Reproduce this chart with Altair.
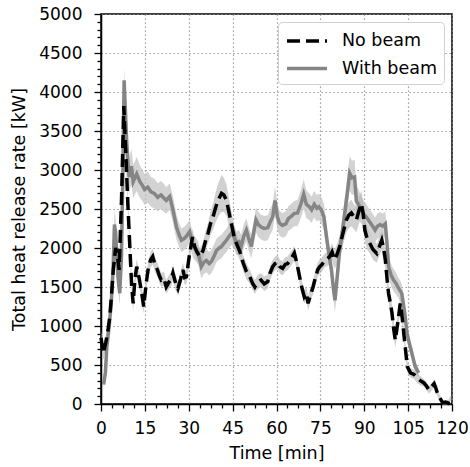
import altair as alt
import pandas as pd

# ---- data ----
nb_t = [0, 0.8, 1.6, 2.4, 3.0, 3.6, 4.2, 5.0, 5.6, 6.2, 7.0, 7.8, 8.5, 9.2, 10.0, 10.5, 11.0, 11.6, 12.2, 13.0,
        13.8, 14.6, 15.5, 16.2, 17.0, 17.7, 18.5, 19.3, 20.0, 20.6, 21.5, 22.3, 23.2, 24.0, 24.6, 25.5, 26.3, 27.2, 28.0, 28.6,
        29.2, 30.3, 31.3, 32.0, 32.8, 33.8, 34.9, 35.8, 36.6, 37.5, 38.3, 39.2, 40.0, 41.2, 42.0, 42.9, 43.8, 44.6, 45.5, 46.3,
        47.5, 48.6, 49.7, 50.9, 51.8, 52.6, 53.5, 54.7, 55.8, 57.0, 57.8, 58.7, 59.5, 60.4, 61.2, 62.1, 63.0, 63.8, 64.5, 65.3,
        66.1, 67.0, 67.8, 68.6, 69.5, 70.2, 70.8, 71.6, 72.5, 73.3, 74.1, 74.8, 75.6, 76.5, 77.3, 78.2, 79.0, 79.8, 80.7, 81.6,
        82.8, 83.9, 84.7, 85.6, 86.5, 87.3, 88.2, 89.0, 89.6, 90.2, 91.0, 91.9, 93.0, 94.3, 95.2, 96.0, 96.6, 97.2, 97.8, 98.3,
        99.0, 99.5, 100.0, 100.6, 101.5, 102.3, 103.0, 103.5, 104.1, 104.7, 105.8, 107.0, 108.1, 109.2, 110.4, 111.3, 112.1, 113.0, 113.9, 114.5,
        115.0, 115.8, 116.8, 117.8, 118.6, 119.3, 119.8]
nb_v = [850, 650, 780, 950, 1120, 1400, 1720, 2000, 1900, 1720, 2600, 3820, 3200, 2550, 1900, 1500, 1290, 1600, 1760, 1620,
        1450, 1250, 1560, 1750, 1850, 1890, 1780, 1720, 1640, 1590, 1610, 1500, 1560, 1600, 1680, 1550, 1480, 1600, 1720, 1620,
        1630, 1930, 2140, 2020, 1950, 1890, 1970, 2100, 2190, 2320, 2400, 2520, 2610, 2700, 2680, 2610, 2450, 2310, 2150, 2060,
        1950, 1810, 1700, 1630, 1550, 1500, 1560, 1590, 1540, 1570, 1680, 1760, 1800, 1820, 1760, 1740, 1790, 1800, 1840, 1880,
        1935, 1800, 1650, 1500, 1375, 1420, 1290, 1400, 1500, 1620, 1720, 1760, 1790, 1840, 1860, 1890, 1950, 1850, 1920, 2020,
        2200, 2360, 2420, 2450, 2400, 2360, 2480, 2570, 2450, 2230, 2120, 2060, 1980, 1930, 2020, 2100, 2000, 1850, 1600, 1420,
        1280, 1160, 980, 820, 1050, 1290, 1100, 910, 700, 480, 400, 380, 330, 300, 270, 230, 180, 220, 260, 200,
        140, 80, 15, 25, 10, 60, 80]
nb_w = [90, 90, 90, 90, 100, 100, 110, 120, 110, 110, 130, 120, 130, 120, 110, 100, 100, 100, 100, 90,
        90, 90, 90, 100, 100, 100, 90, 90, 90, 90, 90, 90, 90, 90, 90, 90, 90, 90, 90, 90,
        90, 100, 110, 100, 100, 100, 110, 120, 130, 150, 170, 190, 210, 240, 220, 200, 180, 160, 140, 120,
        110, 100, 100, 90, 90, 90, 90, 90, 90, 90, 90, 90, 90, 90, 90, 90, 90, 90, 90, 90,
        90, 90, 90, 90, 90, 90, 90, 90, 90, 90, 90, 90, 90, 90, 90, 100, 110, 120, 130, 140,
        150, 160, 170, 170, 160, 160, 170, 170, 160, 150, 140, 130, 130, 120, 120, 120, 120, 120, 120, 120,
        110, 110, 110, 100, 100, 100, 100, 90, 80, 70, 60, 60, 60, 60, 50, 50, 50, 50, 50, 50,
        40, 40, 30, 30, 30, 30, 30]

wb_t = [0.9, 1.5, 2.0, 2.8, 3.5, 4.1, 4.6, 5.0, 5.4, 5.8, 6.4, 7.0, 7.5, 7.9, 8.3, 8.7, 9.2, 9.6, 10.4, 11.0,
        11.6, 12.2, 13.3, 14.2, 14.9, 16.0, 17.1, 18.2, 19.4, 20.5, 21.5, 22.3, 23.5, 24.6, 25.8, 26.6, 27.5, 28.4, 29.2, 30.3,
        31.5, 32.4, 33.2, 34.3, 35.2, 36.0, 37.0, 37.8, 38.7, 39.5, 40.4, 41.2, 42.0, 42.9, 43.8, 44.6, 45.6, 46.3, 47.2, 47.9,
        48.8, 49.7, 50.5, 51.4, 52.2, 53.0, 53.8, 54.7, 55.8, 57.0, 57.8, 58.7, 59.5, 60.3, 61.0, 62.0, 63.2, 64.1, 64.9, 66.0,
        67.2, 68.3, 69.3, 70.2, 71.2, 72.0, 72.9, 73.8, 74.5, 75.3, 76.2, 77.1, 78.0, 78.8, 79.4, 80.0, 80.8, 81.6, 82.5, 83.3,
        84.2, 85.0, 85.8, 86.7, 87.3, 87.9, 88.8, 89.7, 90.6, 91.4, 92.5, 93.7, 94.5, 95.4, 96.3, 97.2, 97.8, 98.3, 99.2, 100.0,
        100.8, 101.5, 102.3, 102.8, 103.4, 104.0, 104.6, 105.4, 106.3, 107.4, 108.6]
wb_v = [250, 400, 735, 1000, 1290, 1700, 2300, 2200, 1900, 1630, 1420, 1890, 3000, 4150, 3800, 3430, 3100, 2910, 3050, 2850,
        2900, 2950, 2850, 2800, 2750, 2780, 2720, 2700, 2650, 2680, 2640, 2610, 2660, 2490, 2270, 2180, 2100, 2120, 2150, 2210,
        2020, 1980, 1940, 1760, 1820, 1840, 1800, 1830, 1900, 1970, 2000, 2020, 2060, 2100, 2150, 2190, 2140, 2060, 2080, 2020,
        2150, 2230, 2120, 2020, 2200, 2360, 2300, 2270, 2250, 2260, 2330, 2400, 2610, 2400, 2320, 2290, 2310, 2380, 2400, 2440,
        2450, 2560, 2690, 2560, 2530, 2490, 2560, 2510, 2530, 2490, 2400, 2140, 1900, 1720, 1500, 1330, 1650, 1970, 2200, 2440,
        2700, 2960, 2900, 2910, 2600, 2570, 2500, 2440, 2400, 2360, 2300, 2230, 2280, 2300, 2280, 2310, 2050, 1760, 1650, 1590,
        1550, 1500, 1450, 1420, 1280, 1120, 910, 780, 650, 480, 400]
wb_w = [60, 80, 100, 120, 140, 160, 180, 170, 160, 150, 150, 160, 170, 150, 170, 180, 200, 220, 230, 220,
        210, 220, 210, 200, 200, 200, 190, 190, 180, 180, 180, 170, 170, 170, 160, 150, 150, 150, 150, 150,
        150, 150, 150, 150, 150, 150, 150, 150, 150, 150, 150, 150, 150, 150, 150, 150, 150, 150, 150, 150,
        150, 150, 150, 150, 150, 160, 160, 160, 160, 160, 160, 170, 180, 170, 160, 160, 160, 160, 160, 160,
        170, 180, 190, 180, 170, 170, 170, 170, 170, 170, 170, 160, 150, 150, 150, 150, 160, 170, 180, 190,
        200, 220, 220, 220, 200, 190, 180, 170, 170, 160, 160, 160, 160, 160, 160, 160, 150, 150, 140, 140,
        140, 130, 130, 120, 120, 110, 100, 90, 80, 70, 60]

series_names = ["No beam", "With beam"]
x_minor = [i * 3.75 for i in range(33)]   # majors every 15 min, 4 minor intervals
y_minor = [i * 100 for i in range(51)]    # majors every 500 kW

rows = []
for t, v, w in zip(nb_t, nb_v, nb_w):
    rows.append({"series": "No beam", "t": t, "v": v, "lo": v - w, "hi": v + w})
for t, v, w in zip(wb_t, wb_v, wb_w):
    rows.append({"series": "With beam", "t": t, "v": v, "lo": v - w, "hi": v + w})
df = pd.DataFrame(rows)

FONT = "DejaVu Sans"

x_axis = alt.Axis(
    values=x_minor, tickCount=100,
    labelExpr="datum.value % 15 === 0 ? datum.label : ''",
    tickSize={"condition": {"test": "datum.value % 15 === 0", "value": 7}, "value": 4},
    gridOpacity={"condition": {"test": "datum.value % 15 === 0", "value": 1}, "value": 0},
    labelOverlap=False, labelFlush=False, title="Time [min]", labelPadding=9, titlePadding=8,
)
y_axis = alt.Axis(
    values=y_minor, tickCount=100,
    labelExpr="datum.value % 500 === 0 ? datum.label : ''",
    tickSize={"condition": {"test": "datum.value % 500 === 0", "value": 7}, "value": 4},
    gridOpacity={"condition": {"test": "datum.value % 500 === 0", "value": 1}, "value": 0},
    labelOverlap=False, labelFlush=False, format="d",
    title="Total heat release rate [kW]", labelPadding=12, titlePadding=10,
)

xs = alt.Scale(domain=[0, 120], nice=False, zero=False)
ys = alt.Scale(domain=[0, 5000], nice=False)

color_scale = alt.Scale(domain=series_names, range=["#000000", "#858585"])
dash_scale = alt.Scale(domain=series_names, range=[[13, 6], [1, 0]])

base = alt.Chart(df)

band_wb = base.transform_filter(alt.datum.series == "With beam").mark_area(
    color="#c4c4c4", opacity=0.75
).encode(x=alt.X("t:Q", scale=xs, axis=x_axis), y=alt.Y("lo:Q", scale=ys, axis=y_axis), y2="hi:Q")

band_nb = base.transform_filter(alt.datum.series == "No beam").mark_area(
    color="#b0b0b0", opacity=0.6
).encode(x=alt.X("t:Q", scale=xs), y=alt.Y("lo:Q", scale=ys), y2="hi:Q")

line_wb = base.transform_filter(alt.datum.series == "With beam").mark_line(strokeWidth=3.5).encode(
    x=alt.X("t:Q", scale=xs), y=alt.Y("v:Q", scale=ys),
    color=alt.Color("series:N", scale=color_scale, title=None),
    strokeDash=alt.StrokeDash("series:N", scale=dash_scale, title=None),
)
line_nb = base.transform_filter(alt.datum.series == "No beam").mark_line(strokeWidth=3.5).encode(
    x=alt.X("t:Q", scale=xs), y=alt.Y("v:Q", scale=ys),
    color=alt.Color("series:N", scale=color_scale, title=None),
    strokeDash=alt.StrokeDash("series:N", scale=dash_scale, title=None),
)

chart = alt.layer(band_wb, band_nb, line_wb, line_nb).properties(
    width=351, height=390,
    autosize=alt.AutoSizeParams(type="none"),
    padding={"left": 101, "top": 14, "right": 18, "bottom": 63},
).configure_view(
    stroke="black", strokeWidth=1.5
).configure_axis(
    labelFont=FONT, titleFont=FONT, labelFontSize=17, titleFontSize=17.5,
    labelColor="black", titleColor="black", titleFontWeight="normal",
    domainColor="black", domainWidth=1.5, tickColor="black", tickWidth=1.3,
    gridColor="#8a8a8a", gridDash=[1.3, 2.7], gridWidth=1.2,
).configure_legend(
    orient="top-right", offset=8, labelFont=FONT, labelFontSize=17.5, labelColor="black",
    strokeColor="#d0d0d0", fillColor="white", cornerRadius=4, padding=7,
    symbolType="M-1,0H3", symbolStrokeWidth=3.5, symbolSize=400, rowPadding=6.5,
    labelOffset=33, symbolOpacity=1,
)

chart.save("out.html", embed_options={"renderer": "svg", "actions": False})
